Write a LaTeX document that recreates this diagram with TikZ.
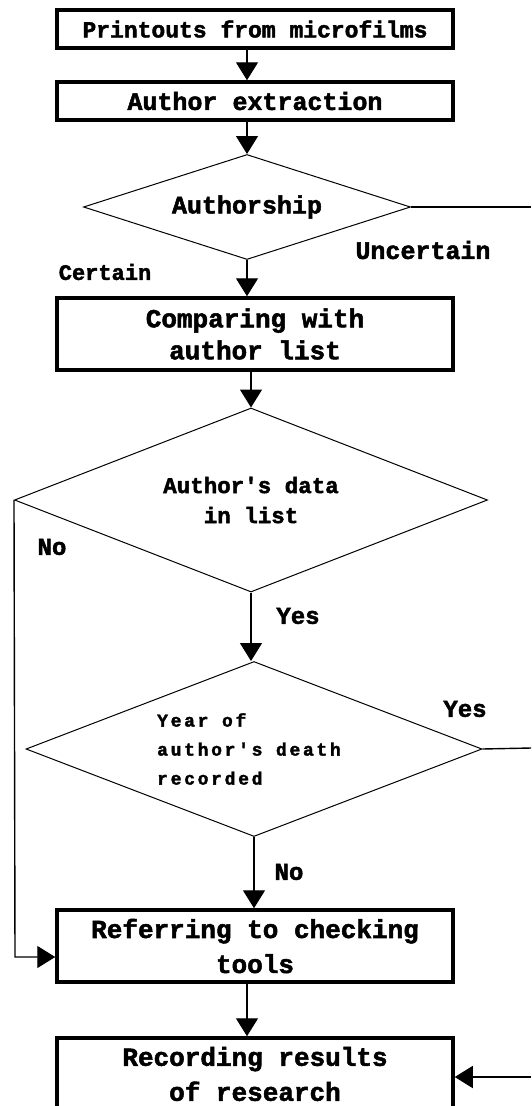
\documentclass[tikz,border=0pt]{standalone}
\usepackage{fontspec}
\setmonofont[FakeBold=2]{Liberation Mono}
\usetikzlibrary{shapes.geometric,arrows.meta}
\begin{document}
\begin{tikzpicture}[x=1pt,y=-1pt,
  txt/.style={font=\ttfamily\bfseries},
  box/.style={draw,line width=3.5pt,minimum width=396pt,inner sep=0pt,align=center,txt},
  dec/.style={draw,line width=1pt,diamond,inner sep=0pt,align=center,txt},
  conn/.style={line width=1.4pt},
  arr/.style={conn,-{Triangle[width=22pt,length=18pt]}},
  lab/.style={txt,inner sep=0pt}]
\useasboundingbox (0,0) rectangle (531,1106);
\clip (0,0) rectangle (531,1106);
\fill[white] (0,0) rectangle (531,1106);
% boxes
\node[box,minimum height=38pt,font=\ttfamily\bfseries\fontsize{23}{28}\selectfont] (b1) at (255,29) {\raisebox{-2pt}{Printouts from microfilms}};
\node[box,minimum height=38pt,font=\ttfamily\bfseries\fontsize{25}{30}\selectfont] (b2) at (255,101) {\raisebox{-3pt}{Author extraction}};
\node[box,minimum height=72pt,font=\ttfamily\bfseries\fontsize{26}{32}\selectfont] (b3) at (255,334) {Comparing with\\author list};
\node[box,minimum height=72pt,font=\ttfamily\bfseries\fontsize{26}{35}\selectfont] (b4) at (255,946) {Referring to checking\\tools};
\node[box,minimum height=72pt,font=\ttfamily\bfseries\fontsize{26}{35}\selectfont] (b5) at (255,1074) {Recording results\\of research};
% diamonds
\node[dec,minimum width=327pt,minimum height=105pt,aspect=3.1,font=\ttfamily\bfseries\fontsize{25}{30}\selectfont] (d1) at (247,207) {Authorship};
\node[dec,minimum width=473pt,minimum height=184pt,aspect=2.57,font=\ttfamily\bfseries\fontsize{22.5}{30}\selectfont] (d2) at (251,500) {Author's data\\in list};
\node[dec,minimum width=456pt,minimum height=175pt,aspect=2.6,align=left,font=\ttfamily\bfseries\fontsize{18}{29}\selectfont\addfontfeature{LetterSpace=15}] (d3) at (254,749) {\hspace*{-10pt}Year of\\\hspace*{-10pt}author's death\\\hspace*{-10pt}recorded};
% labels
\node[lab,font=\ttfamily\bfseries\fontsize{25}{30}\selectfont] (lu) at (423,250) {Uncertain};
\node[lab,font=\ttfamily\bfseries\fontsize{22}{30}\selectfont] (lc) at (105,272) {Certain};
\node[lab,font=\ttfamily\bfseries\fontsize{24}{30}\selectfont] (ln1) at (52,547) {No};
\node[lab,font=\ttfamily\bfseries\fontsize{24}{30}\selectfont] (ly1) at (298,616) {Yes};
\node[lab,font=\ttfamily\bfseries\fontsize{24}{30}\selectfont] (ly2) at (465,709) {Yes};
\node[lab,font=\ttfamily\bfseries\fontsize{24}{30}\selectfont] (ln2) at (289,872) {No};
% free ends
\coordinate (e1) at (531,207);
\coordinate (e3) at (531,748);
\coordinate (e5) at (531,1077);
\coordinate (cl) at (15,957);
% connectors
\draw[arr] (d1.north |- b1.south) -- (d1.north |- b2.north);
\draw[arr] (d1.north |- b2.south) -- (d1.north);
\draw[arr] (d1.south) -- (d1.south |- b3.north);
\draw[arr] (d2.north |- b3.south) -- (d2.north);
\draw[arr] (d2.south) -- (d2.south |- d3.north);
\draw[arr] (d3.south) -- (d3.south |- b4.north);
\draw[arr] (d1.north |- b4.south) -- (d1.north |- b5.north);
\draw[arr] (d2.west) -- (cl) -- (cl -| b4.west);
\draw[conn] (d1.east) -- (e1);
\draw[conn] (d3.east) -- (e3);
\draw[arr] (e5) -- (e5 -| b5.east);
\end{tikzpicture}
\end{document}
